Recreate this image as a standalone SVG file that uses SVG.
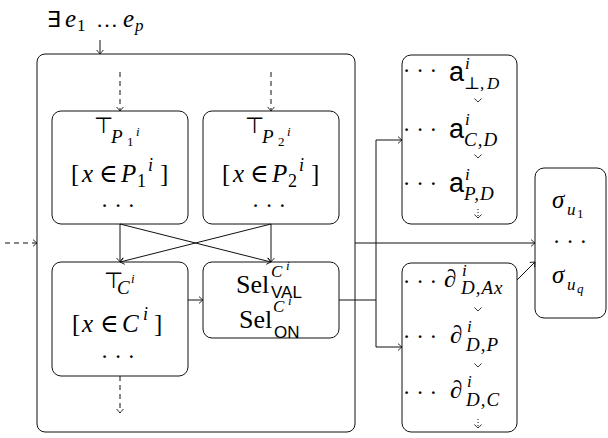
<svg xmlns="http://www.w3.org/2000/svg" width="608" height="438" viewBox="0 0 608 438">
  <defs>
    <style>
      .box { fill: none; stroke: #111; stroke-width: 1; }
      .ln { fill: none; stroke: #111; stroke-width: 1; }
      .dash { stroke-dasharray: 5 4; }
      .dot { stroke-dasharray: 1 2; }
      .m { font-family: "Liberation Serif", "DejaVu Serif", serif; font-size: 25px; fill: #000; }
      .it { font-style: italic; }
      .s { font-size: 18px; }
      .s2 { font-size: 17px; }
      .sub { font-size: 19px; font-style: italic; letter-spacing: 1px; }
      .ss { font-size: 13px; }
      .sf { font-family: "Liberation Sans", "DejaVu Sans", sans-serif; }
      .top { font-family: "DejaVu Sans", sans-serif; font-size: 22px; }
      .big { font-size: 27px; }
      .dots { font-size: 23px; text-anchor: middle; }
    </style>
    <marker id="tip" markerUnits="userSpaceOnUse" viewBox="-6 -5 7 10" refX="0" refY="0" markerWidth="7" markerHeight="10" orient="auto">
      <path d="M-4,-3.4 Q-1.2,-0.9 0,0 Q-1.2,0.9 -4,3.4" fill="none" stroke="#111" stroke-width="0.9"/>
    </marker>
    <path id="chev" d="M-3.6,-3.4 Q-0.9,-1 0,0 Q0.9,-1 3.6,-3.4" fill="none" stroke="#111" stroke-width="0.9"/>
  </defs>

  <!-- heading above the outer block -->
  <g id="exists">
    <text class="m" y="27"><tspan class="top" x="47">∃</tspan><tspan class="it" x="65">e</tspan><tspan class="s2" x="77" y="31">1</tspan><tspan font-size="22" x="96" y="27">…</tspan><tspan class="it" x="123" y="27">e</tspan><tspan class="s2 it" x="135" y="31">p</tspan></text>
  </g>

  <!-- outer block -->
  <g id="outer">
    <rect class="box" x="37" y="54" width="318" height="378" rx="8"/>
  </g>

  <g id="p1">
    <rect class="box" x="52" y="111" width="136" height="113" rx="9"/>
    <text class="m top" x="94" y="133">⊤</text>
    <text class="m"><tspan class="it" font-size="19" x="111" y="143">P</tspan><tspan class="ss" x="127" y="146">1</tspan><tspan class="ss it" x="136" y="136">i</tspan></text>
    <text class="m" y="182"><tspan x="71">[</tspan><tspan class="it" x="82">x</tspan><tspan x="99">∈</tspan><tspan class="it" x="121">P</tspan><tspan class="s" x="137" y="187">1</tspan><tspan class="s it" x="148" y="171">i</tspan><tspan x="160" y="182">]</tspan></text>
    <text class="m dots" x="118" y="213">· · ·</text>
  </g>

  <g id="p2">
    <rect class="box" x="203" y="111" width="136" height="113" rx="9"/>
    <text class="m top" x="245" y="133">⊤</text>
    <text class="m"><tspan class="it" font-size="19" x="262" y="143">P</tspan><tspan class="ss" x="278" y="146">2</tspan><tspan class="ss it" x="287" y="136">i</tspan></text>
    <text class="m" y="182"><tspan x="222">[</tspan><tspan class="it" x="233">x</tspan><tspan x="250">∈</tspan><tspan class="it" x="272">P</tspan><tspan class="s" x="288" y="187">2</tspan><tspan class="s it" x="299" y="171">i</tspan><tspan x="311" y="182">]</tspan></text>
    <text class="m dots" x="269" y="213">· · ·</text>
  </g>

  <g id="c">
    <rect class="box" x="52" y="262" width="136" height="114" rx="9"/>
    <text class="m top" x="104" y="288">⊤</text>
    <text class="m"><tspan class="it" font-size="19" x="117" y="294">C</tspan><tspan class="ss it" x="131" y="283">i</tspan></text>
    <text class="m" y="332"><tspan x="72">[</tspan><tspan class="it" x="82">x</tspan><tspan x="100">∈</tspan><tspan class="it" x="122">C</tspan><tspan class="s it" x="143" y="320">i</tspan><tspan x="154" y="332">]</tspan></text>
    <text class="m dots" x="118" y="364">· · ·</text>
  </g>

  <g id="sel">
    <rect class="box" x="203" y="262" width="136" height="76" rx="9"/>
    <text class="m"><tspan font-size="26" x="236" y="293">Sel</tspan><tspan class="s2 it" x="271" y="277">C</tspan><tspan class="ss it" x="286" y="270">i</tspan></text>
    <text class="m sf s2" x="271" y="298">VAL</text>
    <text class="m"><tspan font-size="26" x="239" y="328">Sel</tspan><tspan class="s2 it" x="273" y="312">C</tspan><tspan class="ss it" x="288" y="305">i</tspan></text>
    <text class="m sf s2" x="274" y="338">ON</text>
  </g>

  <g id="acts">
    <rect class="box" x="402" y="55" width="115" height="169" rx="9"/>
    <text class="m dots" x="420" y="78">· · ·</text>
    <text class="m sf big" x="449" y="81">a</text>
    <text class="m"><tspan class="s2 it" x="465" y="69">i</tspan><tspan class="s2" x="464" y="89">⊥,</tspan><tspan class="s2 it" x="487" y="89">D</tspan></text>
    <text class="m dots" x="420" y="137">· · ·</text>
    <text class="m sf big" x="449" y="138">a</text>
    <text class="m"><tspan class="s2 it" x="465" y="125">i</tspan><tspan class="sub" x="464" y="146">C,D</tspan></text>
    <text class="m dots" x="420" y="191">· · ·</text>
    <text class="m sf big" x="449" y="192">a</text>
    <text class="m"><tspan class="s2 it" x="465" y="180">i</tspan><tspan class="sub" x="464" y="200">P,D</tspan></text>
    <use href="#chev" x="478" y="102"/>
    <use href="#chev" x="478" y="158"/>
    <path class="ln dot" d="M478,209 V216"/>
    <use href="#chev" x="478" y="218"/>
  </g>

  <g id="derivs">
    <rect class="box" x="402" y="263" width="115" height="169" rx="9"/>
    <text class="m dots" x="420" y="289">· · ·</text>
    <text class="m it" x="444" y="287">∂</text>
    <text class="m"><tspan class="s2 it" x="462" y="276">i</tspan><tspan class="sub" x="461" y="294">D,Ax</tspan></text>
    <text class="m dots" x="420" y="344">· · ·</text>
    <text class="m it" x="450" y="343">∂</text>
    <text class="m"><tspan class="s2 it" x="467" y="332">i</tspan><tspan class="sub" x="466" y="351">D,P</tspan></text>
    <text class="m dots" x="420" y="400">· · ·</text>
    <text class="m it" x="450" y="398">∂</text>
    <text class="m"><tspan class="s2 it" x="467" y="387">i</tspan><tspan class="sub" x="466" y="406">D,C</tspan></text>
    <use href="#chev" x="478" y="311"/>
    <use href="#chev" x="478" y="367"/>
    <path class="ln dot" d="M478,419 V426"/>
    <use href="#chev" x="478" y="428"/>
  </g>

  <g id="sigma">
    <rect class="box" x="535" y="168" width="71" height="150" rx="9"/>
    <text class="m"><tspan class="it" x="552" y="208">σ</tspan><tspan class="s2 it" x="567" y="215">u</tspan><tspan class="ss" x="577" y="218">1</tspan></text>
    <text class="m dots" x="570" y="249">· · ·</text>
    <text class="m"><tspan class="it" x="552" y="283">σ</tspan><tspan class="s2 it" x="567" y="290">u</tspan><tspan class="ss it" x="577" y="293">q</tspan></text>
  </g>

  <!-- connectors -->
  <g id="edges">
    <path class="ln" d="M100,40 V54" marker-end="url(#tip)"/>
    <path class="ln dash" d="M5,243 H37" marker-end="url(#tip)"/>
    <path class="ln dash" d="M120,72 V111" marker-end="url(#tip)"/>
    <path class="ln dash" d="M271,72 V111" marker-end="url(#tip)"/>
    <path class="ln" d="M120,224 V262" marker-end="url(#tip)"/>
    <path class="ln" d="M120,224 L271,262" marker-end="url(#tip)"/>
    <path class="ln" d="M271,224 V262" marker-end="url(#tip)"/>
    <path class="ln" d="M271,224 L120,262" marker-end="url(#tip)"/>
    <path class="ln" d="M188,300 H203" marker-end="url(#tip)"/>
    <path class="ln dash" d="M120,376 V413" marker-end="url(#tip)"/>
    <path class="ln" d="M339,300 H376"/>
    <path class="ln" d="M376,300 V140 H402" marker-end="url(#tip)"/>
    <path class="ln" d="M376,300 V347 H402" marker-end="url(#tip)"/>
    <path class="ln" d="M355,243 H535" marker-end="url(#tip)"/>
    <path class="ln" d="M517,280 L535,262" marker-end="url(#tip)"/>
  </g>
</svg>
